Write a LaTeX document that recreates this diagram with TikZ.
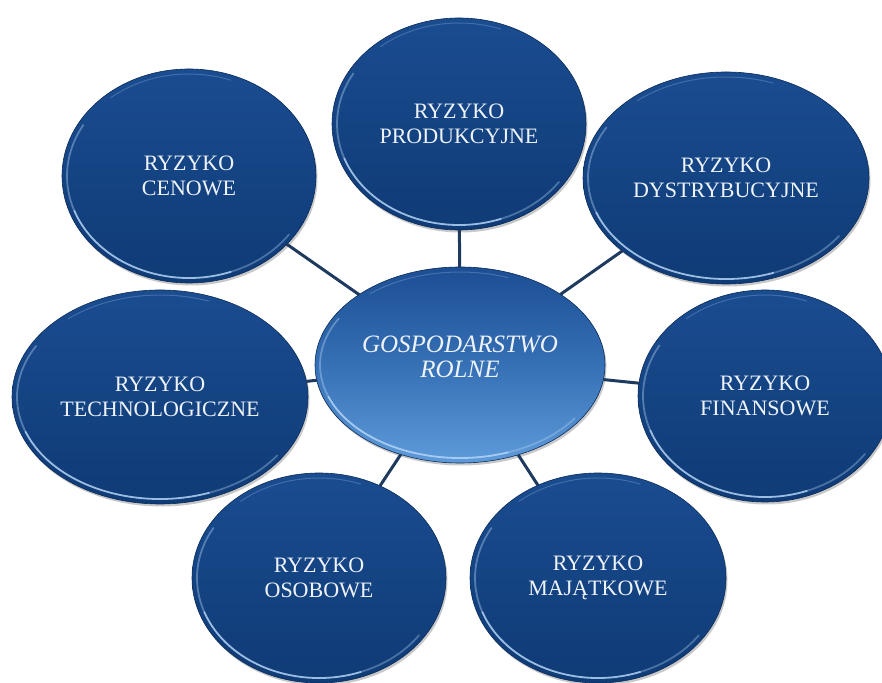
\documentclass[tikz,border=0pt]{standalone}
\usepackage{fontspec}
\setmainfont{Liberation Serif}
\usetikzlibrary{shapes.geometric,shadows}
\definecolor{outtop}{HTML}{1A4C90}
\definecolor{outbot}{HTML}{0F3B76}
\definecolor{outedge}{HTML}{0B2C5A}
\definecolor{hubtop}{HTML}{1C4E94}
\definecolor{hubmid}{HTML}{3670B5}
\definecolor{hubbot}{HTML}{5E9BDA}
\definecolor{txt}{HTML}{EEF3FA}
\definecolor{connc}{HTML}{1E3A5E}
\definecolor{rimc}{HTML}{B4D4F5}
\newcommand{\rimhl}[3]{%
  \draw[rim] (#1.center) ++(200:{#2} and {#3}) arc[start angle=200,end angle=290,x radius=#2,y radius=#3];
  \draw[rim,opacity=0.4] (#1.center) ++(150:{#2} and {#3}) arc[start angle=150,end angle=200,x radius=#2,y radius=#3];
  \draw[rim,opacity=0.35] (#1.center) ++(290:{#2} and {#3}) arc[start angle=290,end angle=325,x radius=#2,y radius=#3];
  \draw[rim,opacity=0.25,line width=1pt] (#1.center) ++(70:{#2} and {#3}) arc[start angle=70,end angle=130,x radius=#2,y radius=#3];}
\begin{document}
\begin{tikzpicture}[x=1pt,y=1pt,
  bubble/.style={ellipse, inner sep=0pt, outer sep=0pt, align=center, text=txt,
    font=\fontsize{22}{25}\selectfont, top color=outtop, bottom color=outbot,
    draw=outedge, line width=0.6pt,
    drop shadow={shadow xshift=1.5pt, shadow yshift=-2.5pt, opacity=0.3, fill=black!70}},
  hub/.style={bubble, top color=hubtop, bottom color=hubbot, middle color=hubmid},
  hubtext/.style={align=center, text=txt, font=\itshape\fontsize{25}{25}\selectfont, inner sep=0pt},
  conn/.style={draw=connc, line width=3pt},
  rim/.style={draw=rimc, line width=1.8pt, opacity=0.85, line cap=round}]
\useasboundingbox (0,0) rectangle (882,682);
\fill[white] (0,0) rectangle (882,682);

\node[bubble, minimum width=254pt, minimum height=212pt] (prod) at (459,558) {RYZYKO\\PRODUKCYJNE};
\node[bubble, minimum width=254pt, minimum height=214pt] (cen) at (189,506) {RYZYKO\\CENOWE};
\node[bubble, minimum width=286pt, minimum height=212pt] (dys) at (726,504) {RYZYKO\\DYSTRYBUCYJNE};
\node[bubble, minimum width=296pt, minimum height=214pt] (tech) at (160,285) {RYZYKO\\TECHNOLOGICZNE};
\node[bubble, minimum width=254pt, minimum height=212pt] (fin) at (765,286) {RYZYKO\\FINANSOWE};
\node[bubble, minimum width=254pt, minimum height=210pt] (oso) at (319,104) {RYZYKO\\OSOBOWE};
\node[bubble, minimum width=256pt, minimum height=210pt] (maj) at (598,104) {RYZYKO\\MAJĄTKOWE};
\node[hub, minimum width=290pt, minimum height=196pt,
  label={[hubtext, yshift=8pt, name=hubtxt]center:GOSPODARSTWO\\ROLNE}] (hub) at (460,317) {};

\rimhl{prod}{122}{101}
\rimhl{cen}{122}{102}
\rimhl{dys}{138}{101}
\rimhl{tech}{143}{102}
\rimhl{fin}{122}{101}
\rimhl{oso}{122}{100}
\rimhl{maj}{123}{100}
\rimhl{hub}{140}{93}

\draw[conn] (hub) -- (prod);
\draw[conn] (hub) -- (cen);
\draw[conn] (hub) -- (dys);
\draw[conn] (hub) -- (tech);
\draw[conn] (hub) -- (fin);
\draw[conn] (hub) -- (oso);
\draw[conn] (hub) -- (maj);
\end{tikzpicture}
\end{document}
